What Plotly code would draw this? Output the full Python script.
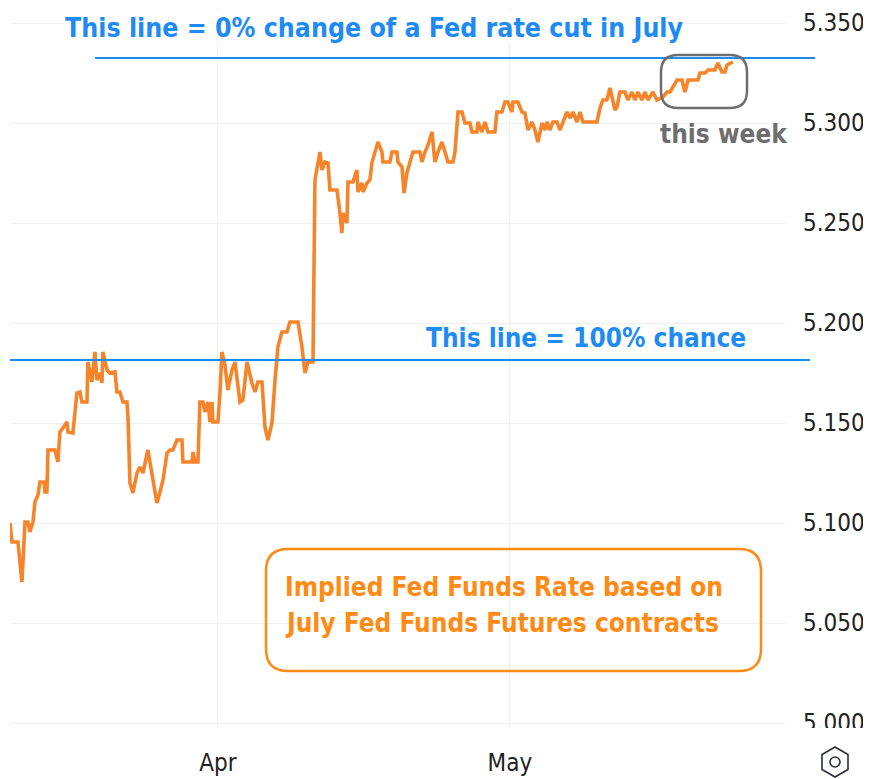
import plotly.graph_objects as go

# ---- data ----
# x: trading days since 1 April (1 Apr = 0, 1 May = 22)
session = [
    -15.67, -15.52, -15.07, -14.77, -14.54, -14.32, -14.17, -13.94, -13.79, -13.56,
    -13.41, -13.11, -13.04, -12.89, -12.81, -12.28, -12.06, -11.91, -11.68, -11.38,
    -11.30, -10.93, -10.63, -10.40, -10.25, -9.87, -9.80, -9.50, -9.27, -9.12,
    -8.89, -8.74, -8.67, -8.36, -8.14, -7.76, -7.61, -7.39, -7.16, -6.86,
    -6.78, -6.63, -6.41, -6.10, -5.88, -5.65, -5.28, -5.12, -4.90, -4.60,
    -4.37, -4.14, -3.84, -3.62, -3.39, -3.09, -2.71, -2.64, -1.96, -1.88,
    -1.73, -1.51, -1.36, -1.13, -0.98, -0.75, -0.60, -0.45, -0.38, 0.00,
    0.15, 0.30, 0.53, 0.75, 1.06, 1.28, 1.66, 1.88, 2.19, 2.56,
    2.79, 3.01, 3.32, 3.54, 3.77, 4.07, 4.30, 4.52, 4.82, 5.20,
    5.43, 6.03, 6.33, 6.56, 6.78, 7.16, 7.31, 7.69, 7.84, 8.06,
    8.29, 8.44, 8.67, 8.97, 9.19, 9.34, 9.42, 9.72, 9.80, 10.17,
    10.47, 10.55, 10.85, 10.93, 11.23, 11.45, 11.61, 11.83, 12.06, 12.36,
    12.43, 12.96, 13.11, 13.49, 13.56, 13.87, 14.02, 14.24, 14.47, 14.69,
    15.22, 15.37, 15.60, 15.83, 16.13, 16.35, 16.58, 16.88, 17.11, 17.33,
    17.71, 17.86, 18.09, 18.39, 18.61, 18.99, 19.14, 19.52, 19.59, 19.89,
    20.12, 20.35, 20.87, 21.02, 21.40, 21.63, 21.85, 22.16, 22.23, 22.61,
    22.91, 23.13, 23.36, 23.66, 23.89, 24.11, 24.42, 24.64, 24.79, 25.02,
    25.24, 25.55, 25.77, 26.00, 26.30, 26.53, 26.75, 27.05, 27.28, 27.51,
    28.56, 28.79, 29.01, 29.31, 29.54, 29.92, 30.07, 30.29, 30.67, 30.90,
    31.20, 31.42, 31.65, 31.95, 32.18, 32.40, 32.78, 33.08, 33.53, 33.84,
    34.06, 34.29, 34.59, 34.97, 35.19, 35.42, 36.17, 36.32, 36.70, 36.93,
    37.45, 37.68, 37.98, 38.21, 38.36, 38.81,
]
rate = [
    5.1000, 5.0905, 5.0905, 5.0705, 5.1005, 5.1005, 5.0955, 5.1005, 5.1105, 5.1140,
    5.1205, 5.1205, 5.1155, 5.1155, 5.1365, 5.1365, 5.1305, 5.1455, 5.1475, 5.1505,
    5.1455, 5.1450, 5.1650, 5.1655, 5.1605, 5.1605, 5.1805, 5.1705, 5.1855, 5.1715,
    5.1750, 5.1700, 5.1855, 5.1765, 5.1750, 5.1755, 5.1655, 5.1655, 5.1605, 5.1605,
    5.1530, 5.1200, 5.1150, 5.1250, 5.1280, 5.1250, 5.1365, 5.1300, 5.1215, 5.1100,
    5.1155, 5.1215, 5.1350, 5.1365, 5.1365, 5.1415, 5.1415, 5.1305, 5.1305, 5.1355,
    5.1305, 5.1305, 5.1605, 5.1605, 5.1555, 5.1605, 5.1505, 5.1605, 5.1505, 5.1505,
    5.1650, 5.1855, 5.1790, 5.1665, 5.1765, 5.1805, 5.1605, 5.1615, 5.1805, 5.1700,
    5.1655, 5.1705, 5.1705, 5.1480, 5.1415, 5.1500, 5.1715, 5.1880, 5.1955, 5.1955,
    5.2005, 5.2005, 5.1880, 5.1750, 5.1805, 5.1805, 5.2715, 5.2855, 5.2765, 5.2805,
    5.2800, 5.2665, 5.2665, 5.2665, 5.2550, 5.2450, 5.2550, 5.2500, 5.2705, 5.2705,
    5.2765, 5.2655, 5.2700, 5.2655, 5.2700, 5.2715, 5.2805, 5.2855, 5.2905, 5.2855,
    5.2805, 5.2805, 5.2855, 5.2855, 5.2805, 5.2780, 5.2650, 5.2750, 5.2805, 5.2855,
    5.2855, 5.2805, 5.2855, 5.2890, 5.2955, 5.2805, 5.2855, 5.2905, 5.2855, 5.2805,
    5.2805, 5.2855, 5.3055, 5.3055, 5.3000, 5.3000, 5.2955, 5.2955, 5.3005, 5.2955,
    5.3005, 5.2955, 5.2955, 5.3055, 5.3055, 5.3105, 5.3105, 5.3055, 5.3105, 5.3105,
    5.3055, 5.3050, 5.2965, 5.3005, 5.2965, 5.2905, 5.3000, 5.2965, 5.3005, 5.2965,
    5.3005, 5.3005, 5.2965, 5.3005, 5.3055, 5.3025, 5.3055, 5.3005, 5.3055, 5.3005,
    5.3005, 5.3075, 5.3115, 5.3115, 5.3175, 5.3065, 5.3080, 5.3155, 5.3155, 5.3115,
    5.3155, 5.3115, 5.3155, 5.3115, 5.3155, 5.3115, 5.3155, 5.3115, 5.3130, 5.3155,
    5.3155, 5.3180, 5.3215, 5.3215, 5.3155, 5.3215, 5.3215, 5.3250, 5.3250, 5.3265,
    5.3265, 5.3300, 5.3255, 5.3255, 5.3290, 5.3305,
]

month_ticks = [0, 22]
month_labels = ["Apr", "May"]
y_ticks = [5.000, 5.050, 5.100, 5.150, 5.200, 5.250, 5.300, 5.350]

no_cut_level = 5.3325     # "0% chance" line
full_cut_level = 5.1815   # "100% chance" line

x_range = [-15.67, 42.73]
y_range = [4.9975, 5.3575]

# ---- layout geometry (page pixels; the page body has an 8 px margin) ----
PAGE_W, PAGE_H, BODY = 871, 779, 8
W, H = PAGE_W - BODY, PAGE_H - BODY
PLOT_L, PLOT_R, PLOT_T, PLOT_B = 10, 785, 8, 728     # plot area on the page
ML = PLOT_L - BODY
MR = PAGE_W - PLOT_R
MT = PLOT_T - BODY
MB = PAGE_H - PLOT_B
PW = PLOT_R - PLOT_L
PH = PLOT_B - PLOT_T


def px(x):
    return (x - PLOT_L) / PW


def py(y):
    return (PLOT_B - y) / PH


def rrect(x0, y0, x1, y1, r):
    X, Y = px, py
    return (f"M {X(x0+r)},{Y(y0)} L {X(x1-r)},{Y(y0)} Q {X(x1)},{Y(y0)} {X(x1)},{Y(y0+r)} "
            f"L {X(x1)},{Y(y1-r)} Q {X(x1)},{Y(y1)} {X(x1-r)},{Y(y1)} "
            f"L {X(x0+r)},{Y(y1)} Q {X(x0)},{Y(y1)} {X(x0)},{Y(y1-r)} "
            f"L {X(x0)},{Y(y0+r)} Q {X(x0)},{Y(y0)} {X(x0+r)},{Y(y0)} Z")


def hexagon(cx, cy, r):
    pts = [(cx, cy - r), (cx + 0.866 * r, cy - r / 2), (cx + 0.866 * r, cy + r / 2),
           (cx, cy + r), (cx - 0.866 * r, cy + r / 2), (cx - 0.866 * r, cy - r / 2)]
    return "M " + " L ".join(f"{px(a)},{py(b)}" for a, b in pts) + " Z"


BLUE = "#1E8BF5"
ORANGE = "#F6842A"
BOX_ORANGE = "#FF8A14"
GRAY = "#6E6E6E"
FONT = "DejaVu Sans Condensed, DejaVu Sans, sans-serif"
NOTE = 26

fig = go.Figure()
fig.add_trace(go.Scatter(
    x=session, y=rate, mode="lines",
    line=dict(color=ORANGE, width=3.6), hoverinfo="skip", showlegend=False,
))

shapes = [
    dict(type="line", xref="paper", yref="y", x0=px(95), x1=px(815),
         y0=no_cut_level, y1=no_cut_level, line=dict(color=BLUE, width=2)),
    dict(type="line", xref="paper", yref="y", x0=px(10), x1=px(810),
         y0=full_cut_level, y1=full_cut_level, line=dict(color=BLUE, width=2)),
    dict(type="path", xref="paper", yref="paper", path=rrect(661, 55, 747, 108, 17),
         line=dict(color=GRAY, width=2.5)),
    dict(type="path", xref="paper", yref="paper", path=rrect(266, 549, 761, 671, 22),
         line=dict(color=BOX_ORANGE, width=2.5)),
    # hides the lower half of the clipped bottom price label
    dict(type="rect", xref="paper", yref="paper", x0=px(792), x1=px(871),
         y0=py(745), y1=py(728), fillcolor="white", line=dict(width=0), layer="above"),
    dict(type="path", xref="paper", yref="paper", path=hexagon(835, 762, 15),
         line=dict(color="#2A2E39", width=1.6)),
    dict(type="circle", xref="paper", yref="paper", x0=px(830), x1=px(840),
         y0=py(767), y1=py(757), line=dict(color="#2A2E39", width=1.6)),
]

annotations = [
    dict(text="<b>This line = 0% change of a Fed rate cut in July</b>", xref="paper", yref="paper",
         x=px(374), y=py(27), xanchor="center", yanchor="middle", showarrow=False,
         bgcolor="white", font=dict(family=FONT, size=26.5, color=BLUE)),
    dict(text="<b>This line = 100% chance</b>", xref="paper", yref="paper",
         x=px(586), y=py(338), xanchor="center", yanchor="middle", showarrow=False,
         font=dict(family=FONT, size=NOTE, color=BLUE)),
    dict(text="<b>this week</b>", xref="paper", yref="paper",
         x=px(724), y=py(134), xanchor="center", yanchor="middle", showarrow=False,
         font=dict(family=FONT, size=NOTE, color=GRAY)),
    dict(text="<b>Implied Fed Funds Rate based on</b>", xref="paper", yref="paper",
         x=px(283), y=py(587), xanchor="left", yanchor="middle", showarrow=False,
         font=dict(family=FONT, size=NOTE, color=BOX_ORANGE)),
    dict(text="<b>July Fed Funds Futures contracts</b>", xref="paper", yref="paper",
         x=px(283), y=py(623), xanchor="left", yanchor="middle", showarrow=False,
         font=dict(family=FONT, size=NOTE, color=BOX_ORANGE)),
]

fig.update_layout(
    width=W, height=H,
    margin=dict(l=ML, r=MR, t=MT, b=MB, autoexpand=False),
    paper_bgcolor="white", plot_bgcolor="white",
    shapes=shapes, annotations=annotations,
    showlegend=False,
    xaxis=dict(range=x_range, tickvals=month_ticks, ticktext=month_labels,
               showgrid=True, gridcolor="#F0F0F0", gridwidth=1, zeroline=False,
               showline=False, ticks="", ticklabelstandoff=18, automargin=False,
               tickfont=dict(family=FONT, size=24, color="#222222")),
    yaxis=dict(range=y_range, side="right", tickvals=y_ticks, tickformat=".3f",
               showgrid=True, gridcolor="#F0F0F0", gridwidth=1, zeroline=False,
               showline=False, ticks="", ticklabelstandoff=17, automargin=False,
               tickfont=dict(family=FONT, size=24, color="#222222")),
)

fig.write_html("out.html")
